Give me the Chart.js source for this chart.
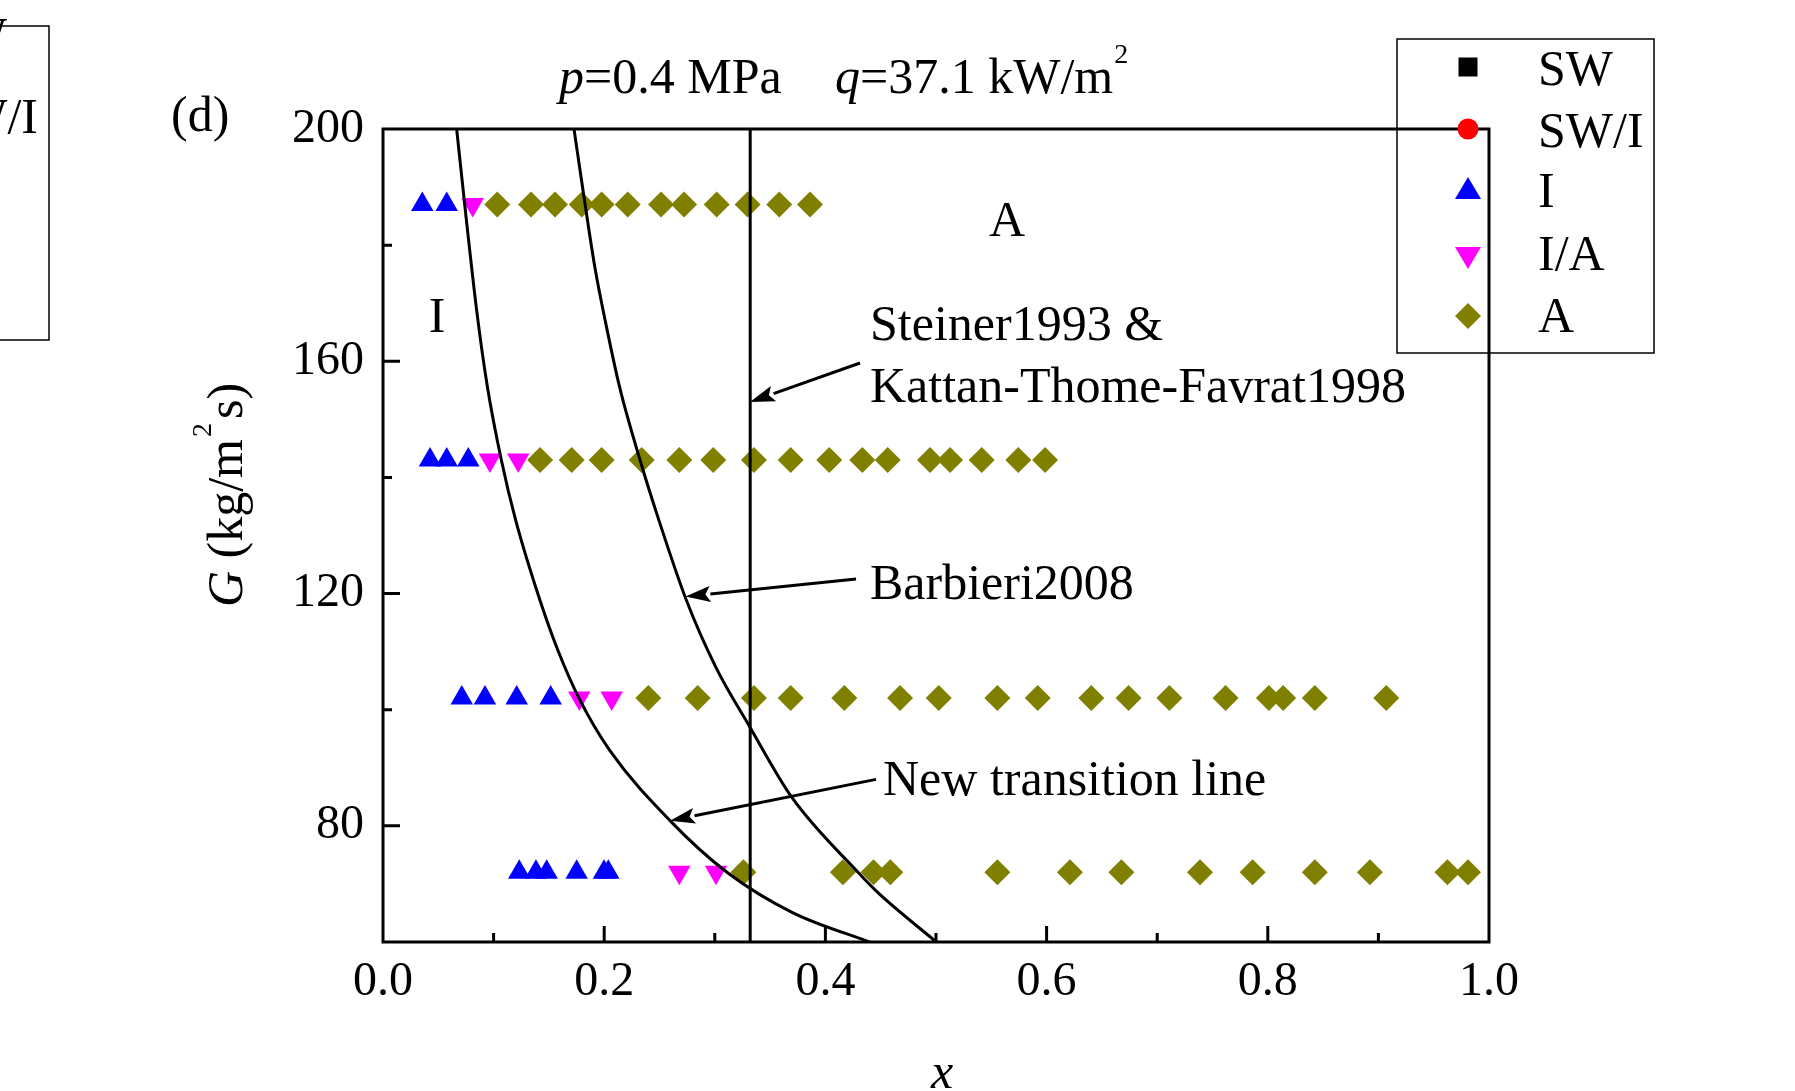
<!DOCTYPE html>
<html><head><meta charset="utf-8">
<script src="https://cdn.jsdelivr.net/npm/chart.js@4/dist/chart.umd.min.js"></script>
<style>html,body{margin:0;padding:0;background:#fff;overflow:hidden}canvas{display:block}</style>
</head><body>
<canvas id="c" width="1795" height="1091"></canvas>
<script>
// ---------- data ----------
const xLabelTicks = [0.0, 0.2, 0.4, 0.6, 0.8, 1.0];
const yLabelTicks = [80, 120, 160, 200];
const rowG = [187, 143, 102, 72];

// I (intermittent) – blue up-triangles
const I_x = [0.0355, 0.0576, 0.0425, 0.0576, 0.0771, 0.0712, 0.0922, 0.1209, 0.1516, 0.1232, 0.1383, 0.1480, 0.1751, 0.1998, 0.2037];
const I_G = [187, 187, 143, 143, 143, 102, 102, 102, 102, 72, 72, 72, 72, 72, 72];
// I/A – magenta down-triangles
const IA_x = [0.0811, 0.0967, 0.1223, 0.1775, 0.2068, 0.2679, 0.3011];
const IA_G = [187, 143, 143, 102, 102, 72, 72];
// A (annular) – olive diamonds, one array per G row
const A1_x = [0.1033, 0.1338, 0.1555, 0.1797, 0.1977, 0.2213, 0.2514, 0.2722, 0.3017, 0.3297, 0.3583, 0.3861];
const A2_x = [0.1420, 0.1706, 0.1977, 0.2339, 0.2679, 0.2986, 0.3354, 0.3686, 0.4035, 0.4334, 0.4563, 0.4946, 0.5127, 0.5413, 0.5744, 0.5986];
const A3_x = [0.2399, 0.2845, 0.3354, 0.3686, 0.4171, 0.4675, 0.5025, 0.5555, 0.5920, 0.6404, 0.6741, 0.7110, 0.7618, 0.8010, 0.8139, 0.8425, 0.9071];
const A4_x = [0.3259, 0.4158, 0.4435, 0.4587, 0.5555, 0.6211, 0.6676, 0.7387, 0.7863, 0.8425, 0.8923, 0.9624, 0.9810];

// transition lines
const newLine_x = [0.0666, 0.0737, 0.0850, 0.0945, 0.1070, 0.1200, 0.1420, 0.1582, 0.1772, 0.2050, 0.2595, 0.3110, 0.3698, 0.4412];
const newLine_G = [200, 187.3, 168.3, 155.5, 143.0, 132.6, 118.8, 110.2, 102.0, 93.0, 80.9, 72.0, 65.1, 59.9];
const barbieri_x = [0.1727, 0.1825, 0.1920, 0.2008, 0.2140, 0.2324, 0.2495, 0.2744, 0.3010, 0.3318, 0.3697, 0.4295, 0.4480, 0.5009];
const barbieri_G = [200, 187.3, 175.7, 167.1, 155.5, 143.0, 132.6, 118.8, 107.3, 97.0, 84.9, 72.0, 68.4, 59.9];
const steiner_x = [0.332, 0.332];
const steiner_G = [60, 200];

// annotation arrows: tail -> tip (data coordinates)
const arrowTail_x = [0.4313, 0.4277, 0.4458];
const arrowTail_G = [159.7, 122.5, 88.0];
const arrowTip_x = [0.3318, 0.2735, 0.2595];
const arrowTip_G = [153.0, 119.5, 80.9];

const legendLabels = ['SW', 'SW/I', 'I', 'I/A', 'A'];
const legendColors = ['#000000', '#ff0000', '#0000ff', '#ff00ff', '#808000'];

// ---------- helpers ----------
const FONT = '"Liberation Serif","Times New Roman",serif';
const pts = (xs, gs) => xs.map((v, i) => ({x: v, y: gs[i]}));
const rowPts = (xs, g) => xs.map(v => ({x: v, y: g}));

const markerDS = (label, data, style, color, radius, rot) => ({
  label, data, showLine: false, pointStyle: style, pointRotation: rot || 0,
  pointRadius: radius, pointBackgroundColor: color, pointBorderWidth: 0, borderWidth: 0,
  backgroundColor: color, borderColor: color
});
const lineDS = (label, data) => ({
  label, data, showLine: true, pointRadius: 0, borderColor: '#000', borderWidth: 3,
  cubicInterpolationMode: 'monotone', fill: false
});

function txt(ctx, s, x, y, size, italic, align) {
  ctx.font = (italic ? 'italic ' : '') + size + 'px ' + FONT;
  ctx.textAlign = align || 'left';
  ctx.textBaseline = 'alphabetic';
  ctx.fillText(s, x, y);
  return ctx.measureText(s).width;
}
function arrow(ctx, x1, y1, x2, y2) {
  const ang = Math.atan2(y2 - y1, x2 - x1), L = 25, W = 8;
  const bx = x2 - L * Math.cos(ang), by = y2 - L * Math.sin(ang);
  ctx.beginPath(); ctx.moveTo(x1, y1); ctx.lineTo(bx, by); ctx.stroke();
  ctx.beginPath(); ctx.moveTo(x2, y2);
  ctx.lineTo(bx + W * Math.sin(ang), by - W * Math.cos(ang));
  ctx.lineTo(bx + 5 * Math.cos(ang), by + 5 * Math.sin(ang));
  ctx.lineTo(bx - W * Math.sin(ang), by + W * Math.cos(ang));
  ctx.closePath(); ctx.fill();
}
function legendSym(ctx, i, cx, cy) {
  ctx.fillStyle = legendColors[i];
  ctx.beginPath();
  if (i === 0) { ctx.rect(cx - 9.5, cy - 9.5, 19, 19); }
  else if (i === 1) { ctx.arc(cx, cy, 10.5, 0, Math.PI * 2); }
  else if (i === 2) { ctx.moveTo(cx, cy - 12); ctx.lineTo(cx + 13, cy + 10); ctx.lineTo(cx - 13, cy + 10); }
  else if (i === 3) { ctx.moveTo(cx, cy + 12); ctx.lineTo(cx + 13, cy - 10); ctx.lineTo(cx - 13, cy - 10); }
  else { ctx.moveTo(cx, cy - 13); ctx.lineTo(cx + 13, cy); ctx.lineTo(cx, cy + 13); ctx.lineTo(cx - 13, cy); }
  ctx.closePath(); ctx.fill();
}

const decor = {
  id: 'decor',
  afterDatasetsDraw(chart) {
    const {ctx, chartArea: a, scales: {x, y}} = chart;
    ctx.save();
    ctx.strokeStyle = '#000'; ctx.lineWidth = 3;
    ctx.strokeRect(a.left, a.top, a.right - a.left, a.bottom - a.top);
    ctx.beginPath();
    x.ticks.forEach(t => {
      const px = x.getPixelForValue(t.value);
      if (px <= a.left + 2 || px >= a.right - 2) return;
      const len = t.label ? 16 : 9;
      ctx.moveTo(px, a.bottom); ctx.lineTo(px, a.bottom - len);
    });
    y.ticks.forEach(t => {
      const py = y.getPixelForValue(t.value);
      if (py <= a.top + 2 || py >= a.bottom - 2) return;
      const len = t.label ? 17 : 9;
      ctx.moveTo(a.left, py); ctx.lineTo(a.left + len, py);
    });
    ctx.stroke();
    ctx.restore();
  },
  afterDraw(chart) {
    const {ctx, chartArea: a, scales: {x, y}} = chart;
    ctx.save();
    ctx.fillStyle = '#000'; ctx.strokeStyle = '#000';
    // title
    let cx = 559;
    cx += txt(ctx, 'p', cx, 93, 50, true);
    cx += txt(ctx, '=0.4 MPa', cx, 93, 50, false);
    cx = 835;
    cx += txt(ctx, 'q', cx, 93, 50, true);
    cx += txt(ctx, '=37.1 kW/m', cx, 93, 50, false);
    txt(ctx, '2', cx + 1, 63, 28, false);
    // panel label
    txt(ctx, '(d)', 171, 131, 50, false);
    // region labels
    txt(ctx, 'A', 1007, 236, 50, false, 'center');
    txt(ctx, 'I', 437, 332, 50, false, 'center');
    // annotations
    txt(ctx, 'Steiner1993 &', 870, 340, 50, false);
    txt(ctx, 'Kattan-Thome-Favrat1998', 870, 402, 50, false);
    txt(ctx, 'Barbieri2008', 870, 599, 50, false);
    txt(ctx, 'New transition line', 883, 795, 50, false);
    ctx.lineWidth = 3;
    for (let i = 0; i < arrowTail_x.length; i++) {
      arrow(ctx, x.getPixelForValue(arrowTail_x[i]), y.getPixelForValue(arrowTail_G[i]),
                 x.getPixelForValue(arrowTip_x[i]), y.getPixelForValue(arrowTip_G[i]));
    }
    // axis titles
    txt(ctx, 'x', 942, 1088, 50, true, 'center');
    ctx.save();
    ctx.translate(242, 495); ctx.rotate(-Math.PI / 2);
    ctx.font = 'italic 50px ' + FONT;
    const w1 = ctx.measureText('G').width;
    ctx.font = '50px ' + FONT;
    const w2 = ctx.measureText(' (kg/m').width, w4 = ctx.measureText('s)').width;
    ctx.font = '28px ' + FONT;
    const w3 = ctx.measureText('2').width + 6;
    let sx = -(w1 + w2 + w3 + w4) / 2;
    sx += txt(ctx, 'G', sx, 0, 50, true);
    sx += txt(ctx, ' (kg/m', sx, 0, 50, false);
    txt(ctx, '2', sx + 2, -31, 28, false);
    sx += w3;
    txt(ctx, 's)', sx, 0, 50, false);
    ctx.restore();
    // legend box
    ctx.lineWidth = 1.5;
    ctx.strokeRect(1397, 39, 257, 314);
    const symY = [67, 129, 189, 257, 316];
    const txtY = [85, 147, 207, 270, 332];
    legendLabels.forEach((lab, i) => {
      legendSym(ctx, i, 1468, symY[i]);
      ctx.fillStyle = '#000';
      txt(ctx, lab, 1538, txtY[i], 50, false);
    });
    // fragment of neighbouring panel's legend
    ctx.strokeRect(-5, 26, 54, 314);
    txt(ctx, 'SW', 7, 52, 50, false, 'right');
    txt(ctx, 'SW/I', 38, 133, 50, false, 'right');
    ctx.restore();
  }
};

new Chart(document.getElementById('c'), {
  type: 'scatter',
  data: {
    datasets: [
      lineDS('New transition line', pts(newLine_x, newLine_G)),
      lineDS('Barbieri2008', pts(barbieri_x, barbieri_G)),
      Object.assign(lineDS('Steiner1993 & Kattan-Thome-Favrat1998', pts(steiner_x, steiner_G)), {cubicInterpolationMode: 'default', tension: 0}),
      markerDS('I', pts(I_x, I_G), 'triangle', '#0000ff', 13),
      markerDS('I/A', pts(IA_x, IA_G), 'triangle', '#ff00ff', 13, 180),
      markerDS('A', [].concat(rowPts(A1_x, rowG[0]), rowPts(A2_x, rowG[1]), rowPts(A3_x, rowG[2]), rowPts(A4_x, rowG[3])), 'rectRot', '#808000', 13),
      markerDS('SW', [], 'rect', '#000000', 13),
      markerDS('SW/I', [], 'circle', '#ff0000', 10)
    ]
  },
  options: {
    responsive: false, animation: false, devicePixelRatio: 1, events: [],
    layout: {padding: {left: 0, top: 129, right: 306, bottom: 0}},
    plugins: {legend: {display: false}, tooltip: {enabled: false}, title: {display: false}},
    scales: {
      x: {
        type: 'linear', position: 'bottom', min: 0, max: 1,
        grid: {display: false, drawTicks: false}, border: {display: false},
        ticks: {
          stepSize: 0.1, autoSkip: false, maxRotation: 0, minRotation: 0, padding: 12, color: '#000',
          font: {family: FONT, size: 48},
          callback: (v) => xLabelTicks.some(t => Math.abs(t - v) < 1e-6) ? v.toFixed(1) : ''
        },
        afterFit: (s) => { s.height = 149; }
      },
      y: {
        type: 'linear', position: 'left', min: 60, max: 200,
        grid: {display: false, drawTicks: false}, border: {display: false},
        ticks: {
          stepSize: 20, autoSkip: false, padding: 19, color: '#000',
          font: {family: FONT, size: 48},
          callback: (v) => yLabelTicks.includes(v) ? String(v) : ''
        },
        afterFit: (s) => { s.width = 383; }
      }
    }
  },
  plugins: [decor]
});
</script>
</body></html>
